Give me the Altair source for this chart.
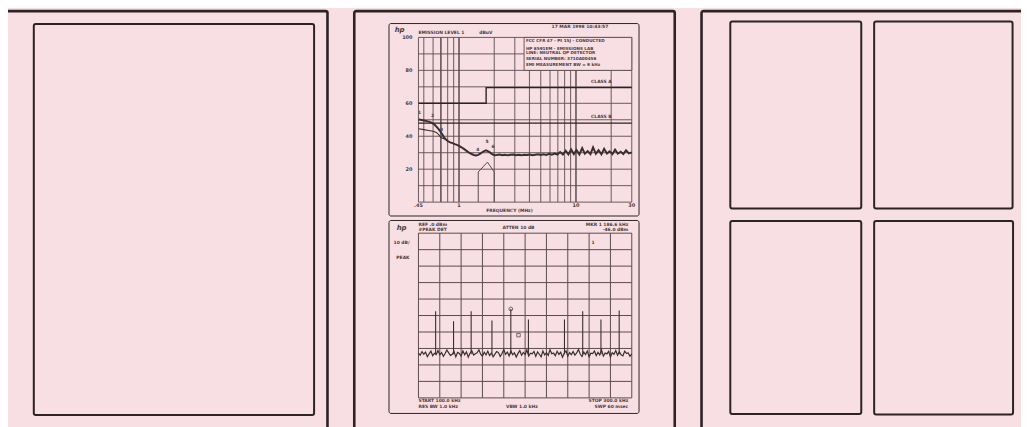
import altair as alt
import numpy as np
import pandas as pd

BG = "#f7dfe3"
INK = "#2b2326"
GRID = "#5a4b4f"
TRACE = "#3a2e32"
TXT = "#4a3c40"
FONT = "DejaVu Sans"

# ---------------- top plot: conducted emission scan (MHz / dBuV) ----------------
grid_freq = [0.45, 0.5, 0.6, 0.7, 0.8, 0.9, 1, 2, 3, 4, 5, 6, 7, 8, 9, 10, 20, 30]
grid_db = [0, 10, 20, 30, 40, 50, 60, 70, 80, 90, 100]
freq_ticks = [0.45, 1, 10, 30]
freq_tick_labels = [".45", "1", "10", "30"]
db_ticks = [100, 80, 60, 40, 20]

peak_freq = [0.45, 0.47, 0.50, 0.53, 0.56, 0.59, 0.62, 0.65, 0.68, 0.71,
             0.74, 0.77, 0.80, 0.84, 0.88, 0.92, 0.96, 1.00, 1.05, 1.10,
             1.16, 1.22, 1.28, 1.34, 1.40, 1.46, 1.52, 1.58, 1.64, 1.70,
             1.76, 1.82, 1.88, 1.95, 2.02,
             2.10, 2.22, 2.34, 2.47, 2.61, 2.76, 2.91, 3.07, 3.24, 3.42,
             3.61, 3.82, 4.03, 4.25, 4.49, 4.74, 5.00, 5.28, 5.58, 5.89,
             6.22, 6.57, 6.93, 7.32, 7.73, 8.16, 8.61, 9.09, 9.60, 10.1,
             10.7, 11.3, 11.9, 12.6, 13.3, 14.0, 14.8, 15.6, 16.5, 17.4,
             18.4, 19.4, 20.5, 21.6, 22.8, 24.1, 25.4, 26.8, 28.3, 30.0]
peak_db = [50.2, 50.0, 49.6, 49.2, 48.7, 48.0, 47.0, 45.4, 43.7, 41.8,
           39.7, 38.1, 37.1, 36.3, 35.8, 35.2, 34.8, 34.2, 33.3, 32.3,
           31.1, 30.0, 29.2, 28.6, 28.3, 28.7, 29.4, 30.3, 31.0, 31.4,
           31.0, 30.4, 29.6, 28.9, 28.5,
           28.6, 28.9, 28.5, 28.8, 28.4, 28.7, 28.9, 28.5, 28.7, 28.4,
           28.8, 28.6, 28.9, 28.5, 28.8, 29.1, 28.6, 29.0, 28.7, 29.3,
           28.8, 29.5, 28.9, 30.4, 28.9, 31.2, 29.0, 32.0, 29.2, 31.6,
           29.0, 32.8, 29.4, 31.0, 29.1, 33.2, 29.3, 31.5, 29.0, 32.4,
           29.5, 30.8, 29.1, 31.9, 29.4, 30.6, 29.2, 31.4, 29.6, 30.2]
avg_freq = [0.45, 0.50, 0.55, 0.60, 0.64, 0.67, 0.70, 0.73, 0.76]
avg_db = [44.6, 44.0, 43.5, 43.0, 42.3, 41.0, 39.4, 38.7, 38.3]

classA_freq = [0.45, 1.705, 1.705, 30]
classA_db = [60, 60, 69.5, 69.5]
classB_freq = [0.45, 30]
classB_db = [48, 48]
bw_freq = [1.46, 1.46, 1.75, 2.0, 2.0]
bw_db = [0, 18.3, 24.3, 18.3, 0]

mk_labels = ["1", "2", "3", "4", "5", "6"]
mk_freq = [0.46, 0.595, 0.709, 1.45, 1.74, 1.95]
mk_db = [54.4, 52.4, 43.8, 31.7, 36.7, 33.7]

info_lines = ["FCC CFR 47 - Pt 15J - CONDUCTED", "HP 8591EM - EMISSIONS LAB",
              "LINE: NEUTRAL  QP DETECTOR", "SERIAL NUMBER: 3710A00456",
              "EMI MEASUREMENT BW = 9 kHz"]
info_db = [97.6, 92.9, 90.4, 86.9, 83.0]

# ---------------- bottom plot: spectrum analyzer sweep (kHz / dBm) ----------------
sweep_grid_f = [100, 120, 140, 160, 180, 200, 220, 240, 260, 280, 300]
sweep_grid_db = [0, -10, -20, -30, -40, -50, -60, -70, -80, -90, -100]
noise_db = [-72.8, -74.1, -71.9, -73.5, -72.2, -75.0, -73.3, -71.6, -74.4, -72.9, -73.7,
            -71.2, -73.9, -72.5, -74.8, -73.1, -70.9, -72.7, -74.2, -73.6, -71.8, -75.1,
            -72.4, -73.0, -74.6, -71.5, -73.8, -72.1, -75.3, -72.9, -71.4, -74.0, -73.2,
            -72.6, -70.8, -73.5, -74.7, -72.3, -73.9, -71.7, -74.3, -72.8, -75.0, -73.4,
            -71.9, -72.5, -74.9, -73.1, -70.7, -73.6, -72.2, -74.5, -71.6, -73.8, -72.7,
            -75.2, -73.0, -71.3, -74.1, -72.4, -73.7, -70.9, -74.6, -72.9, -73.3, -71.8,
            -74.8, -72.1, -73.5, -75.1, -71.5, -73.9, -72.6, -74.2, -70.8, -73.2, -72.8,
            -74.4, -71.7, -73.6, -72.3, -75.3, -73.0, -71.4, -74.7, -72.5, -73.8, -71.9,
            -74.0, -72.7, -70.6, -73.4, -74.9, -72.2, -73.7, -71.6, -75.0, -72.9, -73.1,
            -71.5, -74.3, -72.4, -73.9, -70.9, -74.6, -72.8, -73.3, -71.8, -75.2, -72.6,
            -73.5, -71.3, -74.1, -72.0, -73.8, -74.5, -71.7, -73.0, -72.7, -74.8, -73.2]
noise_f = np.linspace(100, 300, len(noise_db))
spike_f = [116.1, 132.9, 149.4, 168.9, 186.6, 203.1, 236.9, 254.0, 271.1, 288.2]
spike_db = [-47.4, -53.4, -47.4, -53.0, -46.0, -52.4, -52.4, -47.4, -52.4, -47.0]
spike_base = -73.5

# ---------------- page layout of the scanned sheets (pixels) ----------------
outer_x0 = [6.5, 357, 707]
outer_x1 = [330, 680, 1045]
outer_y0 = [9.5, 9.5, 9.5]
outer_y1 = [445, 445, 445]
inner_x0 = [34, 736, 881, 736, 881]
inner_x1 = [316.5, 868, 1020.5, 868, 1021]
inner_y0 = [22.5, 20, 20, 221, 221]
inner_y1 = [416.5, 208.5, 208.5, 415.5, 416]
box_x0 = [392, 392]
box_x1 = [644, 644]
box_y0 = [22, 220.5]
box_y1 = [216, 415]

px = alt.Scale(domain=[8, 1029], range=[0, 1021])
py = alt.Scale(domain=[8, 427], range=[0, 419])


def X(field, scale):
    return alt.X(field, type="quantitative", scale=scale, axis=None)


def Y(field, scale):
    return alt.Y(field, type="quantitative", scale=scale, axis=None)


def frames(x0, x1, y0, y1, w):
    df = pd.DataFrame({"x0": x0, "x1": x1, "y0": y0, "y1": y1})
    return alt.Chart(df).mark_rect(fillOpacity=0, stroke=INK, strokeWidth=w, cornerRadius=2).encode(
        x=X("x0", px), x2="x1", y=Y("y0", py), y2="y1")


page = alt.layer(
    frames(outer_x0, outer_x1, outer_y0, outer_y1, 2.6),
    frames(inner_x0, inner_x1, inner_y0, inner_y1, 2.0),
    frames(box_x0, box_x1, box_y0, box_y1, 1.0),
)


def texts(df, xs, ys, size=5, **kw):
    return alt.Chart(df).mark_text(font=FONT, fontWeight="bold", fontSize=size, color=TXT, **kw).encode(
        x=X("x", xs), y=Y("y", ys), text="t:N")


# ---------- top plot ----------
tx = alt.Scale(type="log", domain=[0.45, 30], range=[413.7, 628.7])
ty = alt.Scale(domain=[0, 100], range=[194, 28])

vgrid = alt.Chart(pd.DataFrame({"f": grid_freq, "lo": 0, "hi": 100})).mark_rule(color=GRID).encode(
    x=X("f", tx), y=Y("lo", ty), y2="hi",
    strokeWidth=alt.condition("datum.f == 1 || datum.f == 10 || datum.f == 0.7", alt.value(1.5), alt.value(0.9)))
hgrid = alt.Chart(pd.DataFrame({"d": grid_db, "lo": 0.45, "hi": 30})).mark_rule(color=GRID, strokeWidth=0.9).encode(
    y=Y("d", ty), x=X("lo", tx), x2="hi")
infobox = alt.Chart(pd.DataFrame({"f0": [3.6], "f1": [30], "d0": [80], "d1": [100]})).mark_rect(
    fill=BG, stroke=GRID, strokeWidth=0.9).encode(x=X("f0", tx), x2="f1", y=Y("d0", ty), y2="d1")


def tline(f, d, w, color=TRACE):
    return alt.Chart(pd.DataFrame({"f": f, "d": d, "i": range(len(f))})).mark_line(
        color=color, strokeWidth=w).encode(x=X("f", tx), y=Y("d", ty), order="i:Q")


top = alt.layer(
    vgrid, hgrid, infobox,
    tline(classA_freq, classA_db, 1.4, INK),
    tline(classB_freq, classB_db, 1.2, INK),
    tline(bw_freq, bw_db, 1.0, GRID),
    tline(avg_freq, avg_db, 1.1),
    tline(peak_freq, peak_db, 2.0),
    texts(pd.DataFrame({"x": 0.45, "y": db_ticks, "t": [str(v) for v in db_ticks]}), tx, ty,
          align="right", baseline="middle", dx=-6),
    texts(pd.DataFrame({"x": freq_ticks, "y": 0, "t": freq_tick_labels}), tx, ty,
          align="center", baseline="top", dy=1),
    texts(pd.DataFrame({"x": [2.7], "y": [0], "t": ["FREQUENCY (MHz)"]}), tx, ty, size=4.5,
          align="center", baseline="middle", dy=9),
    texts(pd.DataFrame({"x": [0.45, 1.49], "y": [100, 100], "t": ["EMISSION LEVEL 1", "dBuV"]}), tx, ty,
          size=4.5, align="left", baseline="middle", dy=-4.5),
    texts(pd.DataFrame({"x": [18.9], "y": [100], "t": ["17 MAR 1998  10:43:57"]}), tx, ty,
          size=4.5, align="right", baseline="middle", dy=-11),
    texts(pd.DataFrame({"x": [0.45], "y": [100], "t": ["hp"]}), tx, ty, size=7,
          align="center", baseline="middle", dx=-19, dy=-7, fontStyle="italic"),
    texts(pd.DataFrame({"x": 3.73, "y": info_db, "t": info_lines}), tx, ty, size=4.2,
          align="left", baseline="middle"),
    texts(pd.DataFrame({"x": [16.5, 16.5], "y": [69.5, 48], "t": ["CLASS A", "CLASS B"]}), tx, ty,
          size=4.5, align="center", baseline="middle", dy=-6),
    texts(pd.DataFrame({"x": mk_freq, "y": mk_db, "t": mk_labels}), tx, ty, size=4.5,
          align="center", baseline="middle"),
)

# ---------- bottom plot ----------
bx = alt.Scale(domain=[100, 300], range=[413.7, 628.7])
by = alt.Scale(domain=[-100, 0], range=[391.3, 225.3])

bvgrid = alt.Chart(pd.DataFrame({"f": sweep_grid_f, "lo": -100, "hi": 0})).mark_rule(color=GRID, strokeWidth=1.0).encode(
    x=X("f", bx), y=Y("lo", by), y2="hi")
bhgrid = alt.Chart(pd.DataFrame({"d": sweep_grid_db, "lo": 100, "hi": 300})).mark_rule(color=GRID, strokeWidth=1.0).encode(
    y=Y("d", by), x=X("lo", bx), x2="hi")
noise = alt.Chart(pd.DataFrame({"f": noise_f, "d": noise_db})).mark_line(color=TRACE, strokeWidth=1.2).encode(
    x=X("f", bx), y=Y("d", by))
spikes = alt.Chart(pd.DataFrame({"f": spike_f, "d": spike_db, "b": spike_base})).mark_rule(
    color=TRACE, strokeWidth=1.1).encode(x=X("f", bx), y=Y("b", by), y2="d")
mk_circle = alt.Chart(pd.DataFrame({"f": [186.6], "d": [-46.0]})).mark_point(
    shape="circle", size=14, color=TRACE, strokeWidth=1).encode(x=X("f", bx), y=Y("d", by))
mk_square = alt.Chart(pd.DataFrame({"f": [193.8], "d": [-61.9]})).mark_point(
    shape="square", size=12, color=TRACE, strokeWidth=1).encode(x=X("f", bx), y=Y("d", by))

bottom = alt.layer(
    bvgrid, bhgrid, noise, spikes, mk_circle, mk_square,
    texts(pd.DataFrame({"x": [100], "y": [0], "t": ["hp"]}), bx, by, size=7,
          align="center", baseline="middle", dx=-17, dy=-5, fontStyle="italic"),
    texts(pd.DataFrame({"x": [100, 100], "y": [-5.8, -14.9], "t": ["10 dB/", "PEAK"]}), bx, by, size=4.5,
          align="right", baseline="middle", dx=-9),
    texts(pd.DataFrame({"x": [100], "y": [0], "t": ["REF .0 dBm"]}), bx, by, size=4.5,
          align="left", baseline="middle", dy=-8),
    texts(pd.DataFrame({"x": [100], "y": [0], "t": ["#PEAK DET"]}), bx, by, size=4.5,
          align="left", baseline="middle", dy=-3.5),
    texts(pd.DataFrame({"x": [193.8], "y": [0], "t": ["ATTEN 10 dB"]}), bx, by, size=4.5,
          align="center", baseline="middle", dy=-5),
    texts(pd.DataFrame({"x": [296.7], "y": [0], "t": ["MKR 1 186.6 kHz"]}), bx, by, size=4.5,
          align="right", baseline="middle", dy=-8),
    texts(pd.DataFrame({"x": [296.7], "y": [0], "t": ["-46.0 dBm"]}), bx, by, size=4.5,
          align="right", baseline="middle", dy=-3.5),
    texts(pd.DataFrame({"x": [263.7], "y": [-6], "t": ["1"]}), bx, by, size=4.5,
          align="center", baseline="middle"),
    texts(pd.DataFrame({"x": [100], "y": [-100], "t": ["START 100.0 kHz"]}), bx, by,
          size=4.5, align="left", baseline="middle", dy=3.5),
    texts(pd.DataFrame({"x": [296.7], "y": [-100], "t": ["STOP 300.0 kHz"]}), bx, by,
          size=4.5, align="right", baseline="middle", dy=3.5),
    texts(pd.DataFrame({"x": [100], "y": [-100], "t": ["RES BW 1.0 kHz"]}), bx, by, size=4.5,
          align="left", baseline="middle", dy=9),
    texts(pd.DataFrame({"x": [197], "y": [-100], "t": ["VBW 1.0 kHz"]}), bx, by, size=4.5,
          align="center", baseline="middle", dy=9),
    texts(pd.DataFrame({"x": [296.7], "y": [-100], "t": ["SWP 60 msec"]}), bx, by, size=4.5,
          align="right", baseline="middle", dy=9),
)

chart = alt.layer(page, top, bottom).resolve_scale(x="independent", y="independent").properties(
    width=1021, height=419, autosize=alt.AutoSizeParams(type="none"), padding=0, background=BG
).configure_view(stroke=None)

chart.save("out.html", embed_options={"renderer": "svg", "actions": False})
